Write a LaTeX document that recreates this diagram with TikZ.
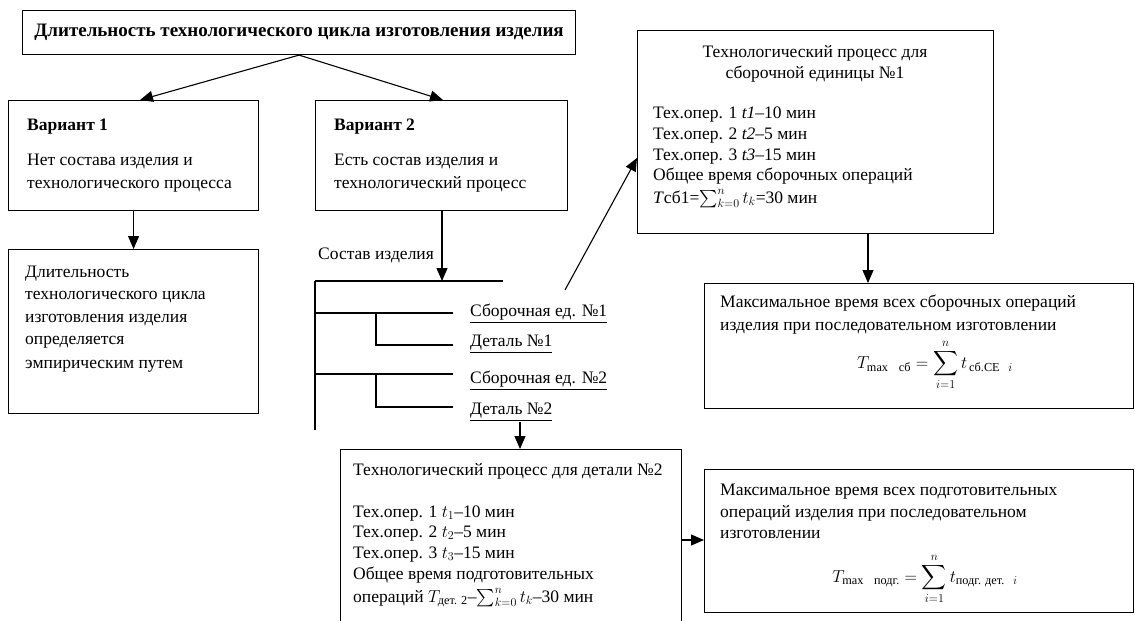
\documentclass[tikz,border=0pt]{standalone}
\usepackage{amsmath}
\usepackage{fontspec}
\setmainfont{Liberation Serif}
\usetikzlibrary{arrows.meta}
\newcommand\fs{\fontsize{17.5}{21}\selectfont}
\newcommand\fsb{\fontsize{19}{22}\selectfont}
\begin{document}
\begin{tikzpicture}[x=1pt,y=-1pt,
  box/.style={draw, line width=1.1pt, inner sep=0pt, anchor=north west},
  txt/.style={inner sep=0pt, anchor=base west, font=\fs},
  ctxt/.style={inner sep=0pt, anchor=base, font=\fs},
  ln/.style={line width=1.1pt},
  arr/.style={line width=1.1pt, -{Triangle[length=13pt,width=11pt]}}]
\useasboundingbox (0,0) rectangle (1135,621);
\fill[white] (0,0) rectangle (1135,621);

% boxes
\node[box, minimum width=553pt, minimum height=44pt, font=\bfseries\fsb] (top) at (22,10)
  {Длительность технологического цикла изготовления изделия};
\node[box, minimum width=250pt, minimum height=110pt] (v1) at (8,100) {};
\node[box, minimum width=250pt, minimum height=164pt] (v1res) at (8,249) {};
\node[box, minimum width=252pt, minimum height=110pt] (v2) at (315,100) {};
\node[box, minimum width=356pt, minimum height=203pt] (tech) at (637,30) {};
\node[box, minimum width=429pt, minimum height=125pt] (maxsb) at (704,283) {};
\node[box, minimum width=341pt, minimum height=200pt] (det) at (340,449) {};
\node[box, minimum width=429pt, minimum height=143pt] (maxpd) at (704,469) {};

% Variant 1
\node[txt, font=\bfseries\fs] (v1t) at (27,130) {Вариант 1};
\node[txt] (v1a) at (27,165) {Нет состава изделия и};
\node[txt] (v1b) at (27,188) {технологического процесса};
\node[txt] (r1) at (25,277) {Длительность};
\node[txt] (r2) at (25,299) {технологического цикла};
\node[txt] (r3) at (25,322) {изготовления изделия};
\node[txt] (r4) at (25,344) {определяется};
\node[txt] (r5) at (25,368) {эмпирическим путем};

% Variant 2
\node[txt, font=\bfseries\fs] (v2t) at (334,130) {Вариант 2};
\node[txt] (v2a) at (334,165) {Есть состав изделия и};
\node[txt] (v2b) at (334,188) {технологический процесс};

% tree
\node[txt] (sost) at (318,259) {Состав изделия};
\node[txt] (se1) at (470,316) {\underline{Сборочная ед. №1}};
\node[txt] (d1) at (470,346) {\underline{Деталь №1}};
\node[txt] (se2) at (470,383) {\underline{Сборочная ед. №2}};
\node[txt] (d2) at (470,414) {\underline{Деталь №2}};
\coordinate (t0) at (315,281);
\coordinate (t1) at (503,281);
\coordinate (tend) at (315,430);
\coordinate (trin) at (442,281);
\coordinate (b1) at (315,313);
\coordinate (b1e) at (453,313);
\coordinate (s1) at (376,313);
\coordinate (s1e) at (453,345);
\coordinate (b2) at (315,374);
\coordinate (b2e) at (453,374);
\coordinate (s2) at (376,374);
\coordinate (s2e) at (453,407);
\draw[ln] (t0) -- (t1);
\draw[ln] (t0) -- (tend);
\draw[ln] (b1) -- (b1e);
\draw[ln] (s1) |- (s1e);
\draw[ln] (b2) -- (b2e);
\draw[ln] (s2) |- (s2e);

% tech box text
\node[ctxt] (tt1) at (815,57) {Технологический процесс для};
\node[ctxt] (tt2) at (815,78) {сборочной единицы №1};
\node[txt] (tl1) at (653,118) {Тех.опер. 1 \textit{t1}–10 мин};
\node[txt] (tl2) at (653,139) {Тех.опер. 2 \textit{t2}–5 мин};
\node[txt] (tl3) at (653,160) {Тех.опер. 3 \textit{t3}–15 мин};
\node[txt] (tl4) at (653,180) {Общее время сборочных операций};
\node[txt] (tl5) at (653,203) {\textit{T}сб1=$\sum_{k=0}^{n} t_k$=30 мин};

% max assembly box
\node[txt] (ms1) at (720,307) {Максимальное время всех сборочных операций};
\node[txt] (ms2) at (720,330) {изделия при последовательном изготовлении};
\node[inner sep=0pt, font=\fs] (msf) at (935,365)
  {$\displaystyle T_{\max\ \ \text{сб}} = \sum_{i=1}^{n} t_{\,\text{сб.СЕ}\ \ i}$};

% detail box
\node[txt] (dt0) at (353,475) {Технологический процесс для детали №2};
\node[txt] (dt1) at (353,517) {Тех.опер. 1 $t_1$–10 мин};
\node[txt] (dt2) at (353,537) {Тех.опер. 2 $t_2$–5 мин};
\node[txt] (dt3) at (353,558) {Тех.опер. 3 $t_3$–15 мин};
\node[txt] (dt4) at (353,579) {Общее время подготовительных};
\node[txt] (dt5) at (353,602) {операций $T_{\text{дет. 2}}$–$\sum_{k=0}^{n} t_k$–30 мин};

% max prep box
\node[txt] (mp1) at (720,495) {Максимальное время всех подготовительных};
\node[txt] (mp2) at (720,517) {операций изделия при последовательном};
\node[txt] (mp3) at (720,538) {изготовлении};
\node[inner sep=0pt, font=\fs] (mpf) at (925,579)
  {$\displaystyle T_{\max\ \ \text{подг.}} = \sum_{i=1}^{n} t_{\text{подг. дет.}\ \ i}$};

% connectors
\coordinate (v1in) at (140,100);
\coordinate (v2in) at (443,100);
\coordinate (v2out) at (442,210);
\coordinate (sbstart) at (565,290);
\coordinate (techin) at (637,158);
\coordinate (techout) at (868,233);
\coordinate (msin) at (868,283);
\coordinate (d2out) at (520,422);
\coordinate (detin) at (520,449);
\coordinate (detout) at (681,540);
\coordinate (mpin) at (704,540);
\draw[arr] (top.south) -- (v1in);
\draw[arr] (top.south) -- (v2in);
\draw[arr] (v1.south) -- (v1res.north);
\draw[arr] (v2out) -- (trin);
\draw[arr] (sbstart) -- (techin);
\draw[arr] (techout) -- (msin);
\draw[arr] (d2out) -- (detin);
\draw[arr] (detout) -- (mpin);
\end{tikzpicture}
\end{document}
